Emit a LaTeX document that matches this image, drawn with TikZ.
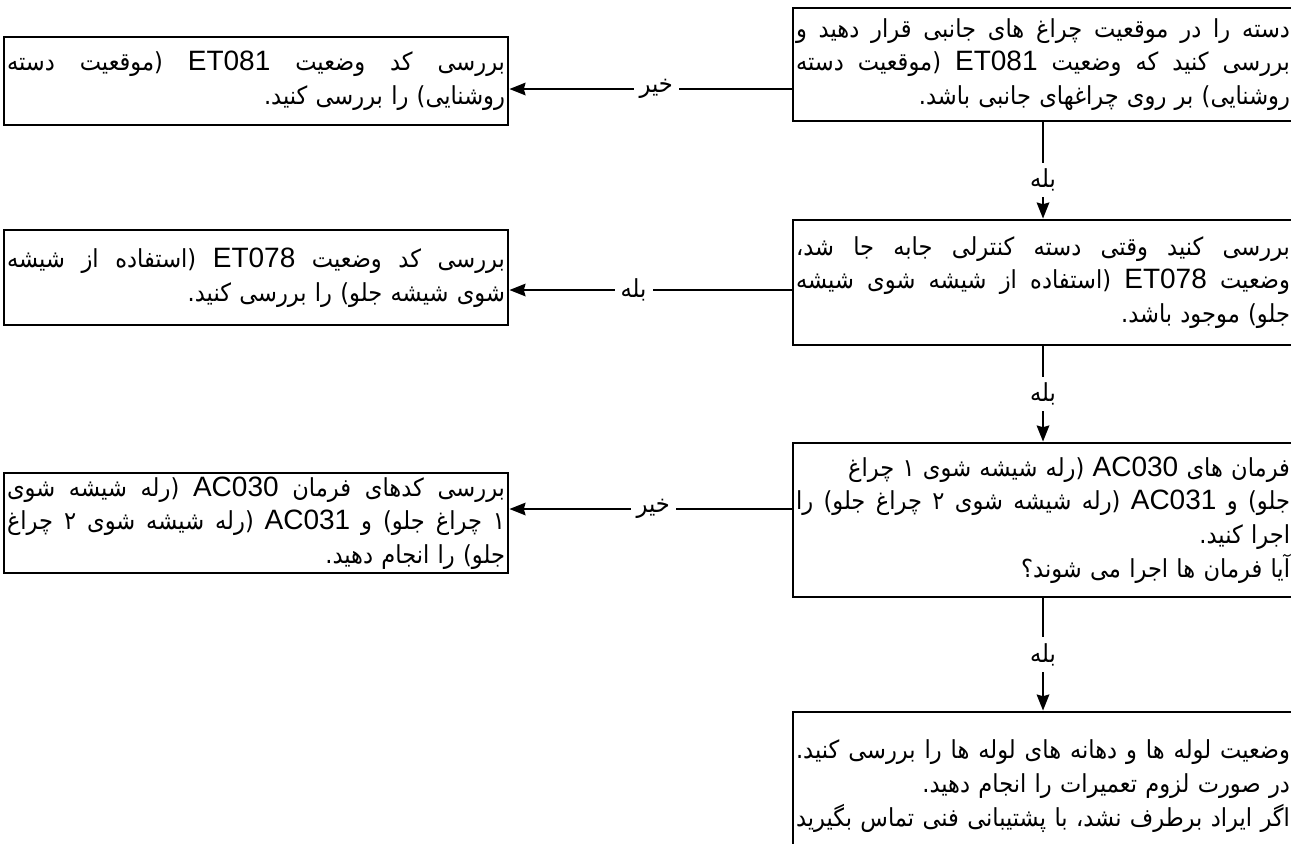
\documentclass[tikz,border=0pt]{standalone}
\usepackage{fontspec}
\usetikzlibrary{arrows.meta}
\newfontfamily\fa[Script=Arabic, FakeStretch=0.91]{DejaVu Sans}
\newfontfamily\lat{Liberation Sans}
\TeXXeTstate=1
% Latin code inside a Persian line
\newcommand\lcode[1]{\beginL{\lat\fontsize{14pt}{16.5pt}\selectfont #1}\endL}
% justified line / last line (flush right)
\newcommand\jrow[1]{\hbox to \hsize{\spaceskip=\fontdimen2\font plus 1fil\relax\beginR #1\endR}}
\newcommand\rrow[1]{\hbox to \hsize{\hfil\beginR #1\endR}}

\begin{document}
\begin{tikzpicture}[x=0.5pt, y=-0.5pt,
    qbox/.style={draw, line width=1.4pt, text width=247pt, inner xsep=1.5pt, inner ysep=0pt,
      font=\fa\fontsize{12.4pt}{16.8pt}\selectfont},
    cbox/.style={qbox, text width=249pt},
    arr/.style={-{Stealth[length=8pt, width=6.2pt, inset=0.8pt]}, line width=1.25pt},
    lbl/.style={fill=white, inner sep=3pt, font=\fa\fontsize{12.4pt}{15pt}\selectfont}]

    \useasboundingbox (0,0) rectangle (1291,843);
    \clip (0,0) rectangle (1291,843);

    % ================= right column =================
    \node[qbox, minimum height=56.5pt] (q1) at (1043,64.5) {%
      \jrow{دسته را در موقعیت چراغ های جانبی قرار دهید و}
      \jrow{بررسی کنید که وضعیت \lcode{ET081} (موقعیت دسته}
      \rrow{روشنایی) بر روی چراغهای جانبی باشد.}};
    \node[qbox, minimum height=62.5pt] (q2) at (1043,282.5) {%
      \jrow{بررسی کنید وقتی دسته کنترلی جابه جا شد،}
      \jrow{وضعیت \lcode{ET078} (استفاده از شیشه شوی شیشه}
      \rrow{جلو) موجود باشد.}};
    \node[qbox, minimum height=77pt] (q3) at (1043,520) {%
      \rrow{فرمان های \lcode{AC030} (رله شیشه شوی ۱ چراغ}
      \jrow{جلو) و \lcode{AC031} (رله شیشه شوی ۲ چراغ جلو) را}
      \rrow{اجرا کنید.}
      \rrow{آیا فرمان ها اجرا می شوند؟}};
    \node[qbox, minimum height=74pt] (q4) at (1043,786) {%
      \jrow{وضعیت لوله ها و دهانه های لوله ها را بررسی کنید.}
      \rrow{در صورت لزوم تعمیرات را انجام دهید.}
      \jrow{اگر ایراد برطرف نشد، با پشتیبانی فنی تماس بگیرید}};

    % ================= left column =================
    \node[cbox, minimum height=44pt] (c1) at (256,81) {%
      \jrow{بررسی کد وضعیت \lcode{ET081} (موقعیت دسته}
      \rrow{روشنایی) را بررسی کنید.}};
    \node[cbox, minimum height=47.5pt] (c2) at (256,277.5) {%
      \jrow{بررسی کد وضعیت \lcode{ET078} (استفاده از شیشه}
      \rrow{شوی شیشه جلو) را بررسی کنید.}};
    \node[cbox, minimum height=50pt] (c3) at (256,523) {%
      \jrow{بررسی کدهای فرمان \lcode{AC030} (رله شیشه شوی}
      \jrow{۱ چراغ جلو) و \lcode{AC031} (رله شیشه شوی ۲ چراغ}
      \rrow{جلو) را انجام دهید.}};

    % ================= connectors =================
    \coordinate (a1) at (0,89);
    \coordinate (a2) at (0,290);
    \coordinate (a3) at (0,509);

    \draw[arr] (q1.west |- a1) -- node[lbl, pos=0.48] {\beginR خیر\endR} (c1.east |- a1);
    \draw[arr] (q2.west |- a2) -- node[lbl, pos=0.56] {\beginR بله\endR} (c2.east |- a2);
    \draw[arr] (q3.west |- a3) -- node[lbl, pos=0.49] {\beginR خیر\endR} (c3.east |- a3);

    \draw[arr] (q1) -- node[lbl, pos=0.6] {\beginR بله\endR} (q2);
    \draw[arr] (q2) -- node[lbl] {\beginR بله\endR} (q3);
    \draw[arr] (q3) -- node[lbl] {\beginR بله\endR} (q4);

\end{tikzpicture}
\end{document}
